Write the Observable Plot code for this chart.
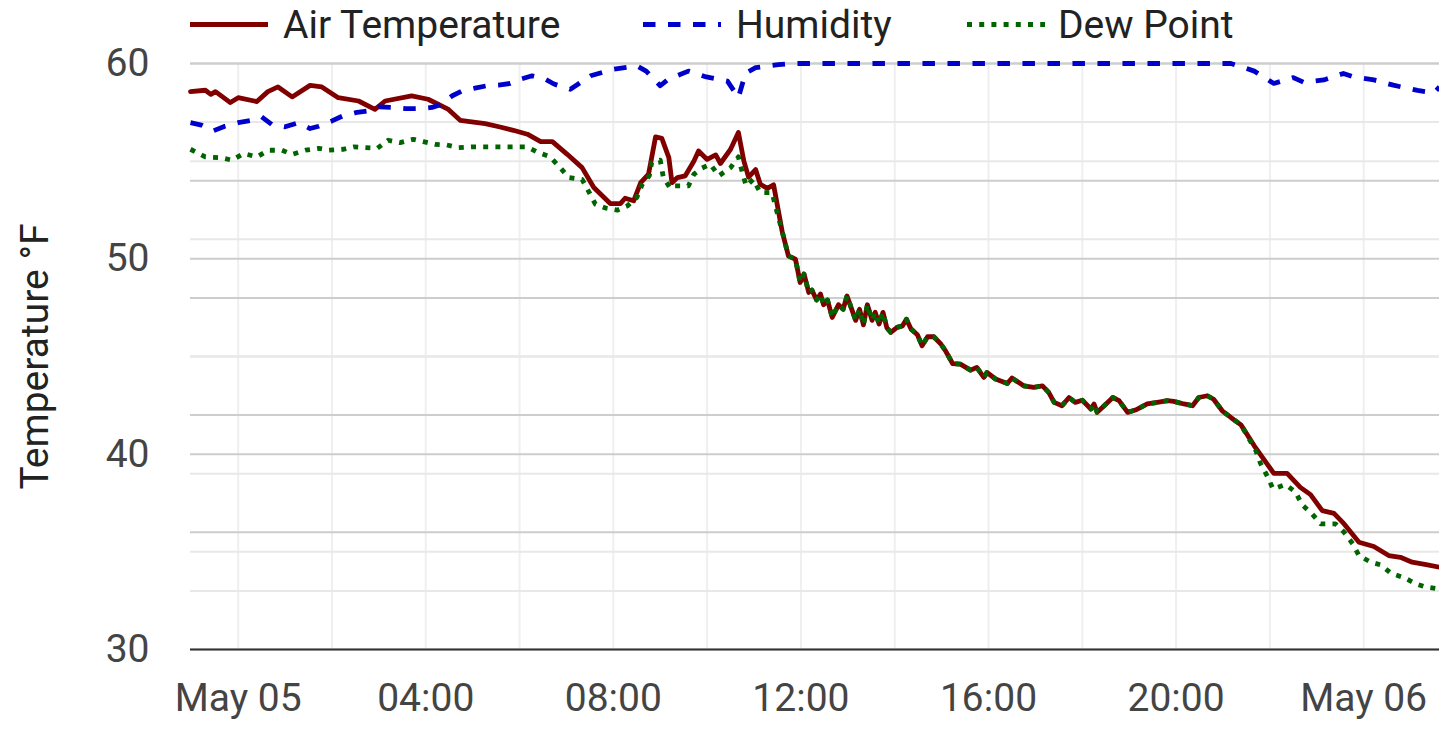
<!DOCTYPE html>
<html><head><meta charset="utf-8">
<script src="https://cdn.jsdelivr.net/npm/d3@7"></script>
<script src="https://cdn.jsdelivr.net/npm/@observablehq/plot@0.6"></script>
<style>
body{margin:0;background:#fff;font-family:Roboto,sans-serif;}
#wrap{position:relative;width:1439px;height:735px;}
#legend{position:absolute;left:0;top:0;width:1439px;height:50px;z-index:2;}
.sw{position:absolute;top:20px;width:78px;height:9px;}
.lab{position:absolute;top:0;line-height:50px;font-size:39px;color:#222;white-space:nowrap;}
#chart{position:absolute;left:0;top:0;}
</style></head><body>
<div id="wrap"><div id="chart"></div><div id="legend"></div></div>
<script>
const seriesNames = ["Air Temperature", "Humidity", "Dew Point"];
const seriesColors = ["#800000", "#0000cd", "#006400"];
const seriesDash = [null, "12.5,12.5", "5,7.2"];
const yTitle = "Temperature °F";
const yTicks = [30, 40, 50, 60];
const tempMinorGrid = [35, 45, 55];
const humMajorGrid = [20, 40, 60, 80, 100];
const humMinorGrid = [10, 30, 50, 70, 90];
const humDomain = [0, 100];
const xStart = "05-04 22:59", xEnd = "05-06 01:37";

const tempTimes = ["05-04 22:59","05-04 23:18","05-04 23:25","05-04 23:31","05-04 23:50","05-05 00:00","05-05 00:24","05-05 00:38","05-05 00:51","05-05 01:09","05-05 01:32","05-05 01:47","05-05 02:08","05-05 02:34","05-05 02:55","05-05 03:08","05-05 03:42","05-05 04:03","05-05 04:29","05-05 04:44","05-05 05:16","05-05 05:35","05-05 05:52","05-05 06:10","05-05 06:27","05-05 06:42","05-05 07:01","05-05 07:20","05-05 07:35","05-05 07:56","05-05 08:09","05-05 08:15","05-05 08:26","05-05 08:35","05-05 08:45","05-05 08:54","05-05 09:02","05-05 09:11","05-05 09:15","05-05 09:22","05-05 09:32","05-05 09:43","05-05 09:49","05-05 10:00","05-05 10:11","05-05 10:17","05-05 10:30","05-05 10:40","05-05 10:47","05-05 10:53","05-05 11:02","05-05 11:08","05-05 11:17","05-05 11:25","05-05 11:36","05-05 11:44","05-05 11:53","05-05 11:59","05-05 12:04","05-05 12:10","05-05 12:14","05-05 12:20","05-05 12:25","05-05 12:29","05-05 12:34","05-05 12:40","05-05 12:48","05-05 12:54","05-05 12:59","05-05 13:10","05-05 13:15","05-05 13:20","05-05 13:25","05-05 13:31","05-05 13:35","05-05 13:40","05-05 13:45","05-05 13:50","05-05 13:55","05-05 14:03","05-05 14:10","05-05 14:15","05-05 14:21","05-05 14:29","05-05 14:35","05-05 14:42","05-05 14:50","05-05 14:59","05-05 15:05","05-05 15:14","05-05 15:24","05-05 15:37","05-05 15:45","05-05 15:54","05-05 15:58","05-05 16:09","05-05 16:24","05-05 16:30","05-05 16:45","05-05 16:58","05-05 17:09","05-05 17:17","05-05 17:24","05-05 17:34","05-05 17:43","05-05 17:51","05-05 18:00","05-05 18:11","05-05 18:15","05-05 18:19","05-05 18:28","05-05 18:39","05-05 18:47","05-05 18:58","05-05 19:08","05-05 19:23","05-05 19:36","05-05 19:49","05-05 19:57","05-05 20:10","05-05 20:21","05-05 20:29","05-05 20:40","05-05 20:48","05-05 20:59","05-05 21:10","05-05 21:23","05-05 21:40","05-05 21:55","05-05 22:05","05-05 22:22","05-05 22:39","05-05 22:52","05-05 23:07","05-05 23:22","05-05 23:35","05-05 23:54","05-06 00:13","05-06 00:32","05-06 00:47","05-06 01:02","05-06 01:20","05-06 01:37"];
const tempValues = [58.56,58.63,58.42,58.56,58.00,58.25,58.05,58.56,58.80,58.29,58.88,58.80,58.25,58.08,57.65,58.08,58.34,58.17,57.65,57.09,56.92,56.75,56.58,56.38,56.00,56.00,55.35,54.67,53.65,52.83,52.83,53.10,52.97,53.90,54.33,56.24,56.17,55.18,53.90,54.16,54.25,55.00,55.52,55.09,55.32,54.88,55.61,56.47,55.00,54.18,54.57,53.82,53.61,53.79,51.40,50.15,49.98,48.79,49.22,48.28,48.40,47.89,48.20,47.65,47.89,47.00,47.65,47.42,48.10,46.85,47.42,46.62,47.65,46.85,47.26,46.66,47.26,46.46,46.24,46.49,46.57,46.91,46.40,46.11,45.55,46.01,46.01,45.64,45.29,44.64,44.61,44.30,44.44,43.93,44.18,43.85,43.62,43.90,43.50,43.42,43.50,43.16,42.65,42.48,42.90,42.65,42.76,42.31,42.57,42.14,42.48,42.90,42.74,42.14,42.26,42.57,42.65,42.74,42.70,42.57,42.48,42.90,42.99,42.81,42.22,41.88,41.50,40.43,39.58,39.02,39.02,38.30,37.93,37.11,36.97,36.43,35.49,35.27,34.81,34.72,34.47,34.35,34.21];

const humTimes = ["05-04 22:59","05-04 23:13","05-04 23:28","05-04 23:43","05-05 00:00","05-05 00:18","05-05 00:30","05-05 00:43","05-05 01:00","05-05 01:17","05-05 01:32","05-05 01:43","05-05 02:00","05-05 02:13","05-05 02:30","05-05 02:45","05-05 03:00","05-05 03:17","05-05 03:34","05-05 03:51","05-05 04:08","05-05 04:19","05-05 04:34","05-05 04:46","05-05 05:03","05-05 05:18","05-05 05:33","05-05 05:48","05-05 06:03","05-05 06:16","05-05 06:33","05-05 06:44","05-05 07:05","05-05 07:31","05-05 07:59","05-05 08:30","05-05 08:42","05-05 09:00","05-05 09:10","05-05 09:36","05-05 09:59","05-05 10:26","05-05 10:40","05-05 10:49","05-05 11:02","05-05 11:31","05-05 11:47","05-05 21:10","05-05 21:27","05-05 21:40","05-05 22:05","05-05 22:30","05-05 22:43","05-05 23:09","05-05 23:34","05-05 23:47","05-06 00:13","05-06 00:38","05-06 01:09","05-06 01:30","05-06 01:37"];
const humValues = [89.9,89.5,88.5,89.3,89.9,90.3,90.9,89.6,89.2,89.9,88.9,89.3,90.2,91.0,91.6,91.9,92.6,92.5,92.3,92.3,92.5,93.0,94.5,95.3,95.8,96.2,96.3,96.6,97.4,97.9,97.3,96.5,95.6,97.9,99.0,99.6,98.7,96.2,97.3,98.7,97.7,97.0,94.2,98.3,99.3,99.8,100,100,99.3,98.7,96.6,97.6,96.8,97.2,98.3,97.7,97.2,96.3,95.4,95.0,96.0];

const dewTimes = ["05-04 22:59","05-04 23:18","05-04 23:37","05-04 23:52","05-05 00:07","05-05 00:24","05-05 00:39","05-05 00:56","05-05 01:09","05-05 01:26","05-05 01:43","05-05 01:56","05-05 02:15","05-05 02:28","05-05 02:43","05-05 02:58","05-05 03:12","05-05 03:27","05-05 03:44","05-05 03:57","05-05 04:12","05-05 04:27","05-05 04:42","05-05 04:59","05-05 05:33","05-05 06:10","05-05 06:24","05-05 06:39","05-05 06:52","05-05 07:03","05-05 07:20","05-05 07:28","05-05 07:37","05-05 07:51","05-05 08:05","05-05 08:18","05-05 08:30","05-05 08:37","05-05 08:46","05-05 08:49","05-05 09:00","05-05 09:04","05-05 09:13","05-05 09:19","05-05 09:36","05-05 09:43","05-05 09:53","05-05 10:04","05-05 10:15","05-05 10:30","05-05 10:40","05-05 10:45","05-05 10:50","05-05 10:59","05-05 11:08","05-05 11:23","05-05 11:29","05-05 11:36","05-05 11:44","05-05 11:53","05-05 11:59","05-05 12:04","05-05 12:10","05-05 12:14","05-05 12:20","05-05 12:25","05-05 12:29","05-05 12:34","05-05 12:40","05-05 12:48","05-05 12:54","05-05 12:59","05-05 13:10","05-05 13:15","05-05 13:20","05-05 13:25","05-05 13:31","05-05 13:35","05-05 13:40","05-05 13:45","05-05 13:50","05-05 13:55","05-05 14:03","05-05 14:10","05-05 14:15","05-05 14:21","05-05 14:29","05-05 14:35","05-05 14:42","05-05 14:50","05-05 14:59","05-05 15:05","05-05 15:14","05-05 15:24","05-05 15:37","05-05 15:45","05-05 15:54","05-05 15:58","05-05 16:09","05-05 16:24","05-05 16:30","05-05 16:45","05-05 16:58","05-05 17:09","05-05 17:17","05-05 17:24","05-05 17:34","05-05 17:43","05-05 17:51","05-05 18:00","05-05 18:11","05-05 18:15","05-05 18:19","05-05 18:28","05-05 18:39","05-05 18:47","05-05 18:58","05-05 19:08","05-05 19:23","05-05 19:36","05-05 19:49","05-05 19:57","05-05 20:10","05-05 20:21","05-05 20:29","05-05 20:40","05-05 20:48","05-05 20:59","05-05 21:10","05-05 21:23","05-05 21:42","05-05 21:48","05-05 21:57","05-05 22:04","05-05 22:20","05-05 22:33","05-05 22:41","05-05 22:54","05-05 23:05","05-05 23:24","05-05 23:35","05-05 23:46","05-05 23:54","05-06 00:09","05-06 00:22","05-06 00:35","05-06 00:52","05-06 01:07","05-06 01:20","05-06 01:37"];
const dewValues = [55.61,55.22,55.18,55.05,55.39,55.22,55.56,55.56,55.35,55.56,55.66,55.56,55.61,55.73,55.69,55.66,56.07,55.95,56.12,56.00,55.86,55.83,55.69,55.73,55.73,55.73,55.44,55.22,54.67,54.16,54.07,53.48,52.80,52.59,52.49,52.71,53.14,53.82,54.25,54.93,55.05,54.16,53.61,53.73,53.73,54.33,54.64,54.84,54.25,54.67,55.22,54.42,53.73,54.07,53.39,53.39,52.46,51.40,50.15,49.98,48.79,49.22,48.28,48.40,47.89,48.20,47.65,47.89,47.00,47.65,47.42,48.10,46.85,47.42,46.62,47.65,46.85,47.26,46.66,47.26,46.46,46.24,46.49,46.57,46.91,46.40,46.11,45.55,46.01,46.01,45.64,45.29,44.64,44.61,44.30,44.44,43.93,44.18,43.85,43.62,43.90,43.50,43.42,43.50,43.16,42.65,42.48,42.90,42.65,42.76,42.31,42.57,42.14,42.48,42.90,42.74,42.14,42.26,42.57,42.65,42.74,42.70,42.57,42.48,42.90,42.99,42.81,42.22,41.88,41.50,40.18,39.53,38.85,38.22,38.44,38.05,37.42,36.94,36.43,36.43,36.00,35.41,34.81,34.47,34.33,33.90,33.67,33.36,33.19,33.10];

// ---- build ----
const parse = d3.utcParse("%m-%d %H:%M");
const yDomain = [30, 60];
const humToY = d3.scaleLinear().domain(humDomain).range(yDomain);
const temp = tempTimes.map((t, i) => ({t: parse(t), v: tempValues[i]}));
const hum = humTimes.map((t, i) => ({t: parse(t), v: humToY(humValues[i])}));
const dew = dewTimes.map((t, i) => ({t: parse(t), v: dewValues[i]}));
const xDomain = [parse(xStart), parse(xEnd)];
const xTicks = d3.utcHour.every(4).range(xDomain[0], xDomain[1]);
const xGrid = d3.utcHour.every(2).range(xDomain[0], xDomain[1]);
const fmtDay = d3.utcFormat("%b %d"), fmtHour = d3.utcFormat("%H:%M");
const tickFormat = d => d.getUTCHours() === 0 ? fmtDay(d) : fmtHour(d);
const lineW = 4.8;

// legend (HTML, laid over the top margin of the chart)
const swLeft = [190, 643, 967], labLeft = [283, 736, 1058];
const legend = document.getElementById("legend");
seriesNames.forEach((name, i) => {
  const sw = document.createElementNS("http://www.w3.org/2000/svg", "svg");
  sw.setAttribute("class", "sw");
  sw.setAttribute("width", 78); sw.setAttribute("height", 9);
  sw.style.left = swLeft[i] + "px";
  const ln = document.createElementNS("http://www.w3.org/2000/svg", "line");
  ln.setAttribute("x1", 0); ln.setAttribute("x2", 78);
  ln.setAttribute("y1", 4.5); ln.setAttribute("y2", 4.5);
  ln.setAttribute("stroke", seriesColors[i]);
  ln.setAttribute("stroke-width", lineW);
  if (seriesDash[i]) ln.setAttribute("stroke-dasharray", seriesDash[i]);
  sw.appendChild(ln);
  legend.appendChild(sw);
  const lab = document.createElement("div");
  lab.className = "lab";
  lab.style.left = labLeft[i] + "px";
  lab.textContent = name;
  legend.appendChild(lab);
});

const chart = Plot.plot({
  width: 1439, height: 735,
  marginLeft: 190, marginRight: 0, marginTop: 63, marginBottom: 86,
  style: {fontFamily: "Roboto, sans-serif", background: "#fff"},
  x: {type: "utc", domain: xDomain},
  y: {domain: yDomain},
  marks: [
    Plot.ruleX(xGrid, {stroke: "#efefef", strokeWidth: 2}),
    Plot.ruleY(tempMinorGrid, {stroke: "#e8e8e8", strokeWidth: 2}),
    Plot.ruleY(humMinorGrid.map(humToY), {stroke: "#e8e8e8", strokeWidth: 2}),
    Plot.ruleY(yTicks, {stroke: "#cdcdcd", strokeWidth: 2}),
    Plot.ruleY(humMajorGrid.map(humToY), {stroke: "#cdcdcd", strokeWidth: 2}),
    Plot.ruleY([yDomain[0]], {stroke: "#333", strokeWidth: 2}),
    Plot.axisY({ticks: yTicks, tickSize: 0, tickPadding: 41, fontSize: 39, color: "#444", label: null}),
    Plot.axisX({ticks: xTicks, tickSize: 0, tickPadding: 34, fontSize: 39, color: "#444", label: null, tickFormat}),
    Plot.text([yTitle], {frameAnchor: "left", textAnchor: "middle", rotate: -90, dx: -155, fontSize: 39, fill: "#222"}),
    Plot.line(temp, {x: "t", y: "v", stroke: seriesColors[0], strokeWidth: lineW, strokeLinejoin: "round"}),
    Plot.line(hum, {x: "t", y: "v", stroke: seriesColors[1], strokeWidth: lineW, strokeDasharray: seriesDash[1], strokeLinecap: "butt"}),
    Plot.line(dew, {x: "t", y: "v", stroke: seriesColors[2], strokeWidth: lineW, strokeDasharray: seriesDash[2], strokeLinecap: "butt"})
  ]
});
document.getElementById("chart").appendChild(chart);
</script>
</body></html>
